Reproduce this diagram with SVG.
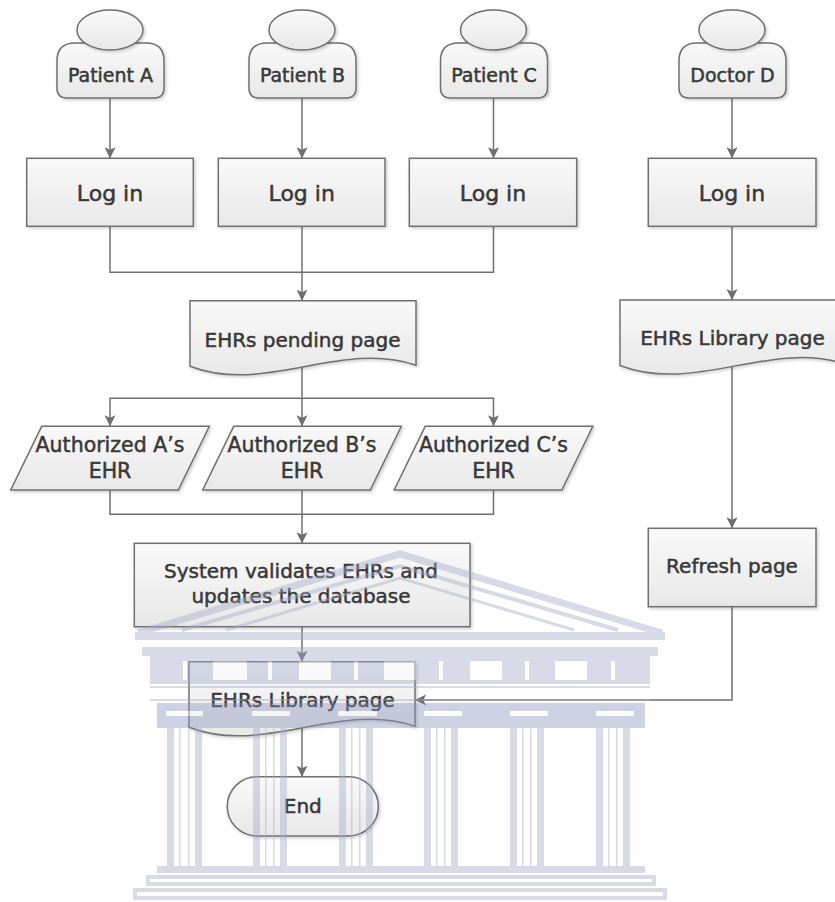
<svg xmlns="http://www.w3.org/2000/svg" width="835" height="902" viewBox="0 0 835 902">
  <defs>
    <linearGradient id="nodeFill" x1="0" y1="0" x2="0" y2="1">
      <stop offset="0" stop-color="#f9f9f9"/>
      <stop offset="1" stop-color="#e8e8e8"/>
    </linearGradient>
    <filter id="shadow" x="-10%" y="-10%" width="125%" height="135%">
      <feDropShadow dx="1.5" dy="1.5" stdDeviation="1.4" flood-color="#000" flood-opacity="0.2"/>
    </filter>
    <marker id="arrow" viewBox="0 0 12 12" refX="11" refY="6" markerWidth="12" markerHeight="12" markerUnits="userSpaceOnUse" orient="auto">
      <path d="M0,0.5 L11,6 L0,11.5 L2.5,6 Z" fill="#6e6e6e"/>
    </marker>
    <style>
      .shape { fill: url(#nodeFill); stroke: #707070; stroke-width: 1.5; filter: url(#shadow); }
      .label { font-family: "DejaVu Sans", "Liberation Sans", sans-serif; fill: #383838; stroke: #383838; stroke-width: 0.5; text-anchor: middle; }
      .actor { font-size: 19px; }
      .big { font-size: 22px; }
      .med { font-size: 20px; }
      .para { font-size: 20.5px; }
      .edge { fill: none; stroke: #707070; stroke-width: 1.5; }
      .arr { marker-end: url(#arrow); }
      .wm { fill: #a3a9c8; }
      .wmDark { fill: #8e95bd; }
      .wmLine { fill: none; stroke: #a3a9c8; }
      .hole { fill: #ffffff; }
    </style>
  </defs>

  <rect width="835" height="902" fill="#ffffff"/>

  <!-- connectors -->
  <g id="connectors">
    <path class="edge arr" d="M110,98 V158.3"/>
    <path class="edge arr" d="M302,98 V158.3"/>
    <path class="edge arr" d="M493.5,98 V158.3"/>
    <path class="edge arr" d="M732,98 V158.3"/>

    <path class="edge" d="M110,226.3 V272.3 H493.5 V226.3"/>
    <path class="edge arr" d="M302,226.3 V300.7"/>

    <path class="edge arr" d="M302,368 V426.3"/>
    <path class="edge arr" d="M302,398.3 H110 V426.3"/>
    <path class="edge arr" d="M302,398.3 H493.5 V426.3"/>

    <path class="edge" d="M110,490 V514.3 H493.5 V490"/>
    <path class="edge arr" d="M302,490 V543.3"/>

    <path class="edge arr" d="M302,626.7 V661.7"/>
    <path class="edge arr" d="M302,729 V776.7"/>

    <path class="edge arr" d="M732,226.3 V300"/>
    <path class="edge arr" d="M732,366 V528.3"/>
    <path class="edge arr" d="M732,606.7 V700 H415"/>
  </g>

  <!-- actors -->
  <g id="patientA">
    <path class="shape" d="M75,43 H146 Q164,43 164,61 V88 Q164,98 154,98 H67 Q57,98 57,88 V61 Q57,43 75,43 Z"/>
    <ellipse class="shape" cx="110" cy="30" rx="33" ry="20"/>
    <text class="label actor" x="110.5" y="81.7">Patient A</text>
  </g>
  <g id="patientB">
    <path class="shape" d="M267,43 H338 Q356,43 356,61 V88 Q356,98 346,98 H259 Q249,98 249,88 V61 Q249,43 267,43 Z"/>
    <ellipse class="shape" cx="302" cy="30" rx="33" ry="20"/>
    <text class="label actor" x="302.5" y="81.7">Patient B</text>
  </g>
  <g id="patientC">
    <path class="shape" d="M458.5,43 H529.5 Q547.5,43 547.5,61 V88 Q547.5,98 537.5,98 H450.5 Q440.5,98 440.5,88 V61 Q440.5,43 458.5,43 Z"/>
    <ellipse class="shape" cx="493.5" cy="30" rx="33" ry="20"/>
    <text class="label actor" x="494" y="81.7">Patient C</text>
  </g>
  <g id="doctorD">
    <path class="shape" d="M697,43 H768 Q786,43 786,61 V88 Q786,98 776,98 H689 Q679,98 679,88 V61 Q679,43 697,43 Z"/>
    <ellipse class="shape" cx="732" cy="30" rx="33" ry="20"/>
    <text class="label actor" x="732.5" y="81.7">Doctor D</text>
  </g>

  <!-- log in steps -->
  <g id="loginA">
    <rect class="shape" x="26.7" y="158.3" width="166.6" height="68"/>
    <text class="label big" x="110" y="201">Log in</text>
  </g>
  <g id="loginB">
    <rect class="shape" x="218.3" y="158.3" width="166.7" height="68"/>
    <text class="label big" x="301.7" y="201">Log in</text>
  </g>
  <g id="loginC">
    <rect class="shape" x="409.3" y="158.3" width="167.4" height="68"/>
    <text class="label big" x="493" y="201">Log in</text>
  </g>
  <g id="loginD">
    <rect class="shape" x="648.3" y="158.3" width="167.7" height="68"/>
    <text class="label big" x="732" y="201">Log in</text>
  </g>

  <!-- pages -->
  <g id="pendingPage">
    <path class="shape" d="M190,300.7 H416 V365.2 C340.7,339.7 265.3,395.2 190,366.2 Z"/>
    <text class="label med" x="302.5" y="346.7">EHRs pending page</text>
  </g>
  <g id="libraryPageDoctor">
    <path class="shape" d="M620,300 H846 V364.5 C770.7,339 695.3,394.5 620,365.5 Z"/>
    <text class="label med" x="732.5" y="345">EHRs Library page</text>
  </g>

  <!-- authorisations -->
  <g id="authA">
    <polygon class="shape" points="41.7,426.3 209.3,426.3 178.3,490 10.7,490"/>
    <text class="label para" x="110" y="451.7">Authorized A’s</text>
    <text class="label para" x="110" y="478.3">EHR</text>
  </g>
  <g id="authB">
    <polygon class="shape" points="233.7,426.3 401.3,426.3 370.3,490 202.7,490"/>
    <text class="label para" x="302" y="451.7">Authorized B’s</text>
    <text class="label para" x="302" y="478.3">EHR</text>
  </g>
  <g id="authC">
    <polygon class="shape" points="425.2,426.3 592.8,426.3 561.8,490 394.2,490"/>
    <text class="label para" x="493.5" y="451.7">Authorized C’s</text>
    <text class="label para" x="493.5" y="478.3">EHR</text>
  </g>

  <g id="systemValidates">
    <rect class="shape" x="134.3" y="543.3" width="335.7" height="83.4"/>
    <text class="label med" x="301" y="578.3">System validates EHRs and</text>
    <text class="label med" x="301" y="602.7">updates the database</text>
  </g>

  <g id="refreshPage">
    <rect class="shape" x="648.3" y="528.3" width="167.7" height="78.4"/>
    <text class="label med" x="732" y="573">Refresh page</text>
  </g>

  <g id="libraryPage">
    <path class="shape" d="M189,661.7 H415 V726.2 C339.7,700.7 264.3,756.2 189,727.2 Z"/>
    <text class="label med" x="302.5" y="706.7">EHRs Library page</text>
  </g>

  <g id="end">
    <rect class="shape" x="227.3" y="776.7" width="151" height="59.3" rx="29.6" ry="29.6"/>
    <text class="label med" x="302.8" y="812.7">End</text>
  </g>

  <!-- faint colonnade print over the lower half -->
  <g id="colonnade" opacity="0.42">
    <path class="wmLine" stroke-width="7" d="M138,633 L400,554 L662,633"/>
    <path class="wmLine" stroke-width="4" d="M182,630 L400,566 L618,630"/>
    <path class="wmLine" stroke-width="3" d="M226,630 L400,578 L574,630"/>
    <rect class="wm" x="135" y="632" width="530" height="8"/>
    <rect class="wm" x="142" y="647" width="516" height="9"/>
    <rect class="wm" x="150" y="656" width="500" height="28"/>
    <rect class="hole" x="213" y="661" width="34" height="19"/>
    <rect class="hole" x="299" y="661" width="32" height="19"/>
    <rect class="hole" x="384" y="661" width="32" height="19"/>
    <rect class="hole" x="470" y="661" width="32" height="19"/>
    <rect class="hole" x="555" y="661" width="32" height="19"/>
    <rect class="hole" x="183" y="661" width="4" height="19"/>
    <rect class="hole" x="268" y="661" width="4" height="19"/>
    <rect class="hole" x="354" y="661" width="4" height="19"/>
    <rect class="hole" x="439" y="661" width="4" height="19"/>
    <rect class="hole" x="525" y="661" width="4" height="19"/>
    <rect class="hole" x="611" y="661" width="4" height="19"/>
    <rect class="wm" x="150" y="686" width="500" height="2"/>
    <rect class="wm" x="150" y="699" width="500" height="2"/>
    <rect class="wmDark" x="157" y="703" width="488" height="25"/>
    <rect class="hole" x="166" y="711" width="37" height="5"/>
    <rect class="hole" x="252" y="711" width="38" height="5"/>
    <rect class="hole" x="338" y="711" width="39" height="5"/>
    <rect class="hole" x="424" y="711" width="38" height="5"/>
    <rect class="hole" x="510" y="711" width="38" height="5"/>
    <rect class="hole" x="596" y="711" width="38" height="5"/>
    <!-- columns -->
    <g class="wm">
      <rect x="167" y="728" width="7" height="139"/><rect x="195" y="728" width="7" height="139"/>
      <rect x="179" y="728" width="1.5" height="139"/><rect x="188" y="728" width="1.5" height="139"/>
      <rect x="253" y="728" width="7" height="139"/><rect x="280" y="728" width="7" height="139"/>
      <rect x="265" y="728" width="1.5" height="139"/><rect x="273" y="728" width="1.5" height="139"/>
      <rect x="339" y="728" width="7" height="139"/><rect x="366" y="728" width="7" height="139"/>
      <rect x="351" y="728" width="1.5" height="139"/><rect x="359" y="728" width="1.5" height="139"/>
      <rect x="424" y="728" width="7" height="139"/><rect x="451" y="728" width="7" height="139"/>
      <rect x="436" y="728" width="1.5" height="139"/><rect x="444" y="728" width="1.5" height="139"/>
      <rect x="510" y="728" width="7" height="139"/><rect x="537" y="728" width="7" height="139"/>
      <rect x="522" y="728" width="1.5" height="139"/><rect x="530" y="728" width="1.5" height="139"/>
      <rect x="596" y="728" width="7" height="139"/><rect x="623" y="728" width="7" height="139"/>
      <rect x="608" y="728" width="1.5" height="139"/><rect x="616" y="728" width="1.5" height="139"/>
    </g>
    <rect class="wm" x="157" y="866" width="488" height="7"/>
    <rect class="wm" x="146" y="875" width="510" height="11"/>
    <rect class="hole" x="150" y="879" width="502" height="3"/>
    <rect class="wm" x="133" y="888" width="534" height="12"/>
    <rect class="hole" x="137" y="892" width="526" height="4"/>
  </g>
</svg>
